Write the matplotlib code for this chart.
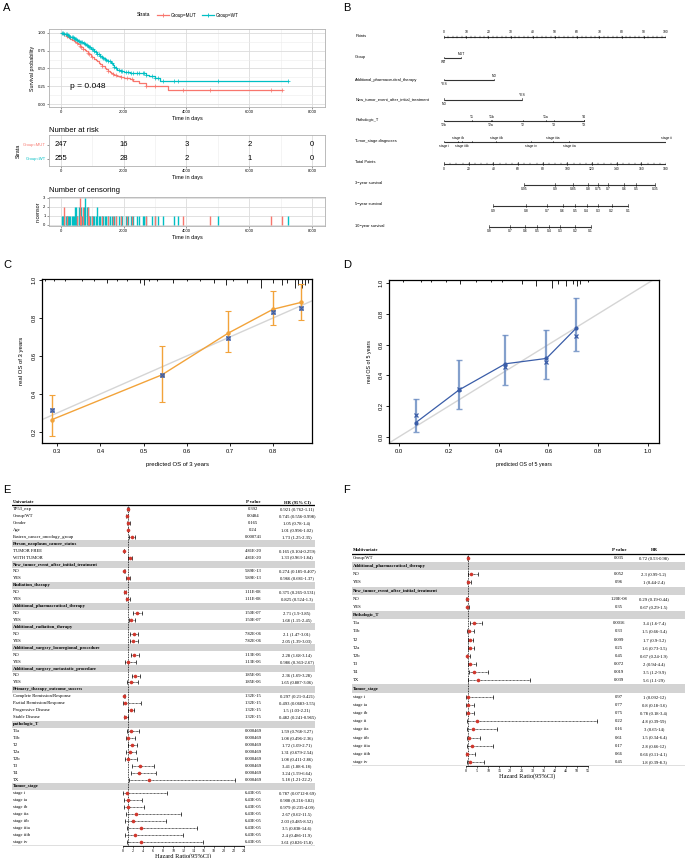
import numpy as np
import matplotlib
matplotlib.use("Agg")
import matplotlib.pyplot as plt

W, H = 685, 858
plt.rcParams['font.family'] = ['Liberation Sans', 'DejaVu Sans']
SERIF = ['Liberation Serif', 'DejaVu Serif']
RED, TEAL = '#F8766D', '#00BFC4'
ORANGE, BLUE = '#F2A33A', '#3A5DA8'

# ---------------- A: survival by group ----------------
km_mut_t = [0, 50, 100, 150, 200, 250, 300, 350, 400, 450, 500, 550, 600, 650, 700, 750, 800, 850,
            900, 950, 1000, 1050, 1100, 1150, 1200, 1250, 1300, 1350, 1400, 1450, 1500, 1550, 1600,
            1650, 1700, 1800, 1900, 2000, 2100, 2200, 2300, 2400, 2500, 2600, 2700, 3300, 3400, 7050]
km_mut_s = [1.0, 0.99, 0.98, 0.96, 0.95, 0.93, 0.92, 0.90, 0.89, 0.87, 0.86, 0.84, 0.82, 0.80, 0.78,
            0.76, 0.74, 0.72, 0.70, 0.68, 0.66, 0.64, 0.62, 0.60, 0.58, 0.56, 0.54, 0.53, 0.51, 0.49,
            0.47, 0.45, 0.44, 0.42, 0.41, 0.40, 0.38, 0.37, 0.36, 0.35, 0.33, 0.32, 0.30, 0.29, 0.25,
            0.25, 0.20, 0.20]
km_wt_t = [0, 50, 100, 150, 200, 250, 300, 350, 400, 450, 500, 550, 600, 650, 700, 750, 800, 850,
           900, 950, 1000, 1050, 1100, 1150, 1200, 1250, 1300, 1350, 1400, 1450, 1500, 1550, 1600,
           1650, 1700, 1750, 1800, 1900, 2000, 2200, 2400, 2600, 2700, 2800, 2900, 3000, 3150, 7250]
km_wt_s = [1.0, 0.995, 0.99, 0.98, 0.97, 0.96, 0.95, 0.94, 0.93, 0.92, 0.90, 0.89, 0.88, 0.87, 0.86,
           0.84, 0.83, 0.81, 0.80, 0.78, 0.77, 0.75, 0.73, 0.71, 0.70, 0.68, 0.66, 0.65, 0.63, 0.62,
           0.61, 0.60, 0.58, 0.55, 0.52, 0.50, 0.48, 0.46, 0.45, 0.44, 0.44, 0.43, 0.41, 0.40, 0.39,
           0.37, 0.32, 0.32]
p_text = "p = 0.048"
risk_times = [0, 2000, 4000, 6000, 8000]
risk_mut = [247, 16, 3, 2, 0]
risk_wt = [255, 28, 2, 1, 0]
cens_wt_t = [40, 70, 110, 150, 190, 230, 260, 300, 340, 380,
             420, 450, 480, 520, 560, 600, 640, 680, 720, 780,
             820, 850, 900, 940, 980, 1020, 1060, 1100, 1150, 1200,
             1250, 1300, 1350, 1400, 1450, 1500, 1560, 1620, 1700, 1760,
             1850, 1900, 1960, 2080, 2150, 2230, 2300, 2420, 2480, 2600,
             2650, 2720, 2900, 3000, 3100, 3250, 3600, 3720, 5000, 7250]
cens_wt_n = [1, 1, 1, 1, 1, 1, 1, 1, 1, 1,
             1, 2, 2, 1, 2, 1, 2, 1, 2, 3,
             2, 2, 1, 1, 1, 1, 1, 1, 2, 1,
             1, 1, 1, 1, 1, 1, 1, 1, 1, 1,
             1, 1, 1, 1, 1, 1, 1, 1, 1, 1,
             1, 1, 1, 1, 1, 1, 1, 1, 1, 1]
cens_mut_t = [100, 180, 500, 600, 650, 700, 860, 900, 1000, 1300, 1500, 1650, 1750, 1900,
              2100, 2250, 2700, 3000, 3900, 4750, 6700, 7050]
cens_mut_n = [2, 1, 1, 3, 1, 2, 2, 1, 1, 1, 1, 1, 1, 1, 1, 1, 1, 1, 1, 1, 1, 1]

# ---------------- B: nomogram ----------------
pts_group = [0, 7.7]
lab_group = ["WT", "MUT"]
pts_pharm = [0, 22.5]
lab_pharm = ["YES", "NO"]
pts_newtum = [0, 35.1]
lab_newtum = ["NO", "YES"]
pts_T = [0, 12.6, 21.2, 21.6, 35.6, 45.9, 49.5, 63.1, 63.1]
lab_T = ["T2b", "T1", "T2a", "T1b", "T2", "T1a", "T3", "T4", "TX"]
pts_stage = [0, 6.3, 8.1, 12.5, 23.4, 39.2, 49.0, 56.3, 100]
lab_stage = ["stage i", "stage ib", "stage iiib", "", "stage iib", "stage iv", "stage iiia",
             "stage iia", "stage ii"]
surv3_tp = [64.9, 90, 104.6, 116.8, 124.9, 133, 146, 155.7, 171]
surv3_lab = ["0.95", "0.9", "0.85", "0.8", "0.75", "0.7", "0.6", "0.5", "0.35"]
surv5_tp = [39.7, 66.5, 83.8, 96.2, 106.2, 115.7, 125.1, 136, 149.5]
surv5_lab = ["0.9", "0.8", "0.7", "0.6", "0.5", "0.4", "0.3", "0.2", "0.1"]
surv10_tp = [36.5, 53.5, 65.7, 75.7, 85.1, 94.1, 106.2, 118.9]
surv10_lab = ["0.8", "0.7", "0.6", "0.5", "0.4", "0.3", "0.2", "0.1"]

# ---------------- C / D: calibration ----------------
c_pred = [0.288, 0.542, 0.696, 0.800, 0.865]
c_obs = [0.265, 0.500, 0.720, 0.846, 0.882]
c_lo = [0.177, 0.360, 0.620, 0.763, 0.790]
c_hi = [0.393, 0.650, 0.837, 0.940, 0.977]
c_corr = [0.317, 0.498, 0.693, 0.830, 0.850]
c_rug_x = [0.273, 0.292, 0.319, 0.358, 0.385, 0.415, 0.439, 0.462, 0.492, 0.500, 0.512, 0.531, 0.569,
           0.600, 0.631, 0.662, 0.692, 0.708, 0.739, 0.773, 0.800, 0.820, 0.831, 0.850, 0.858, 0.866,
           0.874, 0.881]
c_rug_n = [1, 1, 1, 1, 1, 2, 1, 1, 2, 3, 1, 1, 2, 1, 1, 2, 3, 1, 2, 4, 2, 3, 2, 4, 3, 4, 3, 2]

d_pred = [0.067, 0.241, 0.427, 0.592, 0.711]
d_obs = [0.092, 0.305, 0.475, 0.510, 0.706]
d_lo = [0.033, 0.181, 0.340, 0.377, 0.556]
d_hi = [0.248, 0.497, 0.660, 0.693, 0.900]
d_corr = [0.144, 0.310, 0.451, 0.486, 0.654]
d_rug_x = [0.016, 0.09, 0.13, 0.19, 0.244, 0.31, 0.37, 0.415, 0.495, 0.55, 0.616, 0.638, 0.672,
           0.699, 0.715, 0.728, 0.759]
d_rug_n = [1, 1, 1, 1, 2, 1, 1, 1, 2, 3, 4, 2, 3, 2, 3, 2, 1]

# ---------------- E: univariate cox ----------------
nan = np.nan
e_labels = ["TP53_exp", "Group/WT", "Gender", "Age", "Eastern_cancer_oncology_group",
            "Person_neoplasm_cancer_status", "TUMOR FREE", "WITH TUMOR",
            "New_tumor_event_after_initial_treatment", "NO", "YES",
            "Radiation_therapy", "NO", "YES",
            "Additional_pharmaceutical_therapy", "NO", "YES",
            "Additional_radiation_therapy", "NO", "YES",
            "Additional_surgery_locoregional_procedure", "NO", "YES",
            "Additional_surgery_metastatic_procedure", "NO", "YES",
            "Primary_therapy_outcome_success", "Complete Remission/Response",
            "Partial Remission/Response", "Progressive Disease", "Stable Disease",
            "pathologic_T", "T1a", "T1b", "T2", "T2a", "T2b", "T3", "T4", "TX",
            "Tumor_stage", "stage i", "stage ia", "stage ib", "stage iia", "stage iib",
            "stage iiia", "stage iiib", "stage iv"]
e_p = ["0.392", "0.0484", "0.165", "0.24", "0.000741",
       "", "4.81E-20", "4.81E-20",
       "", "5.89E-13", "5.89E-13",
       "", "1.11E-08", "1.11E-08",
       "", "1.50E-07", "1.50E-07",
       "", "7.82E-06", "7.82E-06",
       "", "1.13E-06", "1.13E-06",
       "", "1.85E-06", "1.85E-06",
       "", "1.32E-15", "1.32E-15", "1.32E-15", "1.32E-15",
       "", "0.000469", "0.000469", "0.000469", "0.000469", "0.000469", "0.000469", "0.000469",
       "0.000469",
       "", "6.43E-05", "6.43E-05", "6.43E-05", "6.43E-05", "6.43E-05", "6.43E-05", "6.43E-05",
       "6.43E-05"]
e_hr = [0.921, 0.745, 1.05, 1.01, 1.73, nan, 0.165, 1.33, nan, 0.274, 0.966, nan, 0.375, 0.825,
        nan, 2.71, 1.68, nan, 2.1, 2.05, nan, 2.28, 0.986, nan, 2.36, 1.65,
        nan, 0.297, 0.493, 1.5, 0.482,
        nan, 1.59, 1.08, 1.72, 1.31, 1.08, 3.41, 3.24, 5.18,
        nan, 0.787, 0.908, 0.979, 2.67, 2.03, 3.5, 2.4, 3.61]
e_lo = [0.762, 0.556, 0.78, 0.996, 1.25, nan, 0.104, 0.963, nan, 0.185, 0.681, nan, 0.265, 0.524,
        nan, 1.9, 1.15, nan, 1.47, 1.39, nan, 1.68, 0.363, nan, 1.69, 0.887,
        nan, 0.21, 0.0683, 1.03, 0.241,
        nan, 0.768, 0.496, 1.09, 0.679, 0.411, 1.88, 1.59, 1.21,
        nan, 0.0712, 0.216, 0.235, 0.62, 0.485, 0.838, 0.486, 0.826]
e_hi = [1.11, 0.998, 1.4, 1.02, 2.35, nan, 0.259, 1.84, nan, 0.407, 1.37, nan, 0.531, 1.3,
        nan, 3.85, 2.45, nan, 3.01, 3.03, nan, 3.14, 2.67, nan, 3.28, 3.06,
        nan, 0.421, 3.55, 2.21, 0.965,
        nan, 3.27, 2.36, 2.71, 2.54, 2.86, 6.18, 6.64, 22.2,
        nan, 8.69, 3.82, 4.09, 11.5, 8.52, 14.6, 11.9, 15.8]

# ---------------- F: multivariate cox ----------------
f_labels = ["Group/WT", "Additional_pharmaceutical_therapy", "NO", "YES",
            "New_tumor_event_after_initial_treatment", "NO", "YES",
            "Pathologic_T", "T1a", "T1b", "T2", "T2a", "T2b", "T3", "T4", "TX",
            "Tumor_stage", "stage i", "stage ia", "stage ib", "stage ii", "stage iia", "stage iib",
            "stage iiia", "stage iiib", "stage iv"]
f_p = ["0.035", "", "0.052", "0.96", "", "1.20E-08", "0.35", "", "0.0016", "0.33", "0.099", "0.25",
       "0.45", "0.072", "0.019", "0.039", "", "0.97", "0.77", "0.75", "0.22", "0.16", "0.61", "0.17",
       "0.66", "0.45"]
f_hr = [0.72, nan, 2.3, 1, nan, 0.29, 0.67, nan, 3.4, 1.5, 1.7, 1.6, 0.67, 2, 3.5, 5.6,
        nan, 1, 0.8, 0.78, 4.8, 3, 1.5, 2.8, 0.66, 1.8]
f_lo = [0.53, nan, 0.99, 0.44, nan, 0.19, 0.29, nan, 1.6, 0.66, 0.9, 0.73, 0.24, 0.94, 1.2, 1.1,
        nan, 0.092, 0.18, 0.18, 0.39, 0.65, 0.34, 0.66, 0.11, 0.39]
f_hi = [0.98, nan, 5.2, 2.4, nan, 0.44, 1.5, nan, 7.4, 3.4, 3.2, 3.5, 1.9, 4.4, 9.9, 29,
        nan, 12, 3.6, 3.4, 59, 14, 6.4, 12, 4.1, 8.3]

fig = plt.figure(figsize=(W / 100, H / 100), dpi=100)


def ax_at(x0, y0, x1, y1):
    # pixel box (top-left origin) -> figure axes
    return fig.add_axes([x0 / W, 1 - y1 / H, (x1 - x0) / W, (y1 - y0) / H])


def ftext(x, y, s, **kw):
    fig.text(x / W, 1 - y / H, s, **kw)


for lab, x, y in [("A", 3, 8), ("B", 343, 8), ("C", 3, 265), ("D", 343, 265), ("E", 3, 490), ("F", 343, 490)]:
    ftext(x, y, lab, fontsize=8, va='center', ha='left')


def gg_style(ax):
    for s in ax.spines.values():
        s.set_color('#b0b0b0')
        s.set_linewidth(0.6)
    ax.set_axisbelow(True)
    ax.grid(True, which='major', color='#dcdcdc', lw=0.6)
    ax.grid(True, which='minor', color='#ececec', lw=0.4)
    ax.tick_params(which='major', labelsize=3, length=1.5, width=0.4, color='#444444', pad=1)
    ax.tick_params(which='minor', length=0)
    ax.set_xlim(-382, 8414)
    ax.set_xticks(risk_times)
    ax.set_xticks([1000, 3000, 5000, 7000], minor=True)


# KM legend row
ax_leg = ax_at(130, 9, 250, 21)
ax_leg.set_xlim(130, 250)
ax_leg.set_ylim(0, 1)
ax_leg.axis('off')
ax_leg.text(137, 0.5, "Strata", fontsize=3.6, va='center')
for x0, col, lab in [(157, RED, "Group=MUT"), (202, TEAL, "Group=WT")]:
    ax_leg.plot([x0, x0 + 12], [0.5, 0.5], color=col, lw=0.9)
    ax_leg.plot([x0 + 6], [0.5], marker='+', color=col, ms=2.5, mew=0.6)
    ax_leg.text(x0 + 14, 0.5, lab, fontsize=3.3, va='center')

ax_km = ax_at(49, 29, 325, 107)
gg_style(ax_km)
ax_km.set_ylim(-0.042, 1.056)
ax_km.set_yticks([0, 0.25, 0.5, 0.75, 1.0])
ax_km.set_yticklabels(["0.00", "0.25", "0.50", "0.75", "1.00"])
ax_km.set_yticks([0.125, 0.375, 0.625, 0.875], minor=True)
for t, s, ct, col in [(km_mut_t, km_mut_s, cens_mut_t, RED), (km_wt_t, km_wt_s, cens_wt_t, TEAL)]:
    t = np.array(t)
    s = np.array(s)
    ax_km.step(t, s, where='post', color=col, lw=0.9)
    idx = np.searchsorted(t, np.array(ct), side='right') - 1
    ax_km.plot(ct, s[idx], ls='none', marker='+', color=col, ms=2.2, mew=0.5)
ax_km.text(300, 0.25, p_text, fontsize=6, va='center')
ax_km.set_xlabel("Time in days", fontsize=4, labelpad=1)
ax_km.set_ylabel("Survival probability", fontsize=3.8, labelpad=2)

ftext(49, 130, "Number at risk", fontsize=5.5, va='center')
ax_rt = ax_at(49, 135, 325, 166)
gg_style(ax_rt)
ax_rt.grid(False, axis='y', which='both')
ax_rt.set_ylim(-0.5, 1.71)
for t, a, b in zip(risk_times, risk_mut, risk_wt):
    ax_rt.text(t, 1, str(a), fontsize=5.5, ha='center', va='center')
    ax_rt.text(t, 0, str(b), fontsize=5.5, ha='center', va='center')
ax_rt.set_yticks([1, 0])
ax_rt.set_yticklabels(["Group=MUT", "Group=WT"])
for tl, col in zip(ax_rt.get_yticklabels(), [RED, TEAL]):
    tl.set_color(col)
ax_rt.set_xlabel("Time in days", fontsize=4, labelpad=1)
ax_rt.set_ylabel("Strata", fontsize=3.8, labelpad=1)

ftext(49, 190, "Number of censoring", fontsize=5.5, va='center')
ax_cn = ax_at(49, 197, 325, 226)
gg_style(ax_cn)
ax_cn.set_ylim(-0.15, 3.1)
ax_cn.set_yticks([0, 1, 2, 3])
ax_cn.vlines(cens_wt_t, 0, cens_wt_n, color=TEAL, lw=1.0)
ax_cn.vlines(cens_mut_t, 0, cens_mut_n, color=RED, lw=1.0)
ax_cn.set_xlabel("Time in days", fontsize=4, labelpad=1)
ax_cn.set_ylabel("n.censor", fontsize=3.8, labelpad=2)

# ---------------- B ----------------
NFS = 2.9
ax_b = ax_at(444, 20, 666, 250)
ax_b.set_xlim(0, 100)
ax_b.set_ylim(250, 20)
ax_b.axis('off')


def row_label(y, s):
    ax_b.text(-40, y, s, fontsize=NFS, ha='left', va='center')


def var_axis(y, pos, labs, sides):
    ax_b.plot([min(pos), max(pos)], [y, y], color='#333333', lw=0.8, solid_capstyle='butt')
    for p, lab, sd in zip(pos, labs, sides):
        ax_b.plot([p, p], [y, y - 1.3], color='k', lw=0.4)
        ax_b.text(p, y - 4.3 if sd else y + 4.3, lab, fontsize=NFS * 0.85, ha='center', va='center')


def scale_axis(y, pos, labs, minor=None, up=False):
    ax_b.plot([min(pos), max(pos)], [y, y], color='#333333', lw=0.8, solid_capstyle='butt')
    if minor is not None:
        for p in minor:
            ax_b.plot([p, p], [y - 0.8, y + 0.8], color='k', lw=0.3)
    for p, lab in zip(pos, labs):
        ax_b.plot([p, p], [y - 1.3, y + 1.3], color='k', lw=0.4)
        ax_b.text(p, y - 5 if up else y + 5, lab, fontsize=NFS * 0.85, ha='center', va='center')


tp = 100 / 180
row_label(36, "Points")
scale_axis(37, list(range(0, 101, 10)), [str(v) for v in range(0, 101, 10)],
           minor=list(range(0, 101, 2)), up=True)
row_label(57, "Group")
var_axis(58, pts_group, lab_group, [False, True])
row_label(80, "Additional_pharmaceutical_therapy")
var_axis(80, pts_pharm, lab_pharm, [False, True])
row_label(99, "New_tumor_event_after_initial_treatment")
var_axis(99.5, pts_newtum, lab_newtum, [False, True])
row_label(120, "Pathologic_T")
var_axis(121, pts_T, lab_T, [False, True, False, True, False, True, False, True, False])
row_label(141, "Tumor_stage.diagnoses")
var_axis(142, pts_stage, lab_stage, [False, True, False, False, True, False, True, False, True])
row_label(162, "Total Points")
scale_axis(163.5, [v * tp for v in range(0, 181, 20)], [str(v) for v in range(0, 181, 20)],
           minor=[v * tp for v in range(0, 181, 5)])
row_label(183, "3\u2212year survival")
scale_axis(184.5, [v * tp for v in surv3_tp], surv3_lab)
row_label(204, "5\u2212year survival")
scale_axis(205.5, [v * tp for v in surv5_tp], surv5_lab)
row_label(226, "10\u2212year survival")
scale_axis(226.5, [v * tp for v in surv10_tp], surv10_lab)


# ---------------- C / D ----------------
def cal_style(ax, xl, yl, xt, yt, fmt):
    ax.set_xlim(*xl)
    ax.set_ylim(*yl)
    for s in ax.spines.values():
        s.set_linewidth(0.9)
    ax.set_xticks(xt)
    ax.set_xticklabels([fmt % v for v in xt])
    ax.set_yticks(yt)
    ax.set_yticklabels([fmt % v for v in yt], rotation=90, va='center')
    ax.tick_params(labelsize=4.2, length=2, width=0.6, pad=2)
    ax.plot([-0.1, 1.1], [-0.1, 1.1], color='#d5d5d5', lw=1.0, zorder=1)


ax_c = ax_at(42, 279, 312, 443)
cal_style(ax_c, (0.265, 0.89), (0.142, 1.005), [0.3, 0.4, 0.5, 0.6, 0.7, 0.8], [0.2, 0.4, 0.6, 0.8, 1.0], "%.1f")
c_obs_a = np.array(c_obs)
ax_c.errorbar(c_pred, c_obs, yerr=[c_obs_a - np.array(c_lo), np.array(c_hi) - c_obs_a], color=ORANGE,
              lw=1.0, elinewidth=1.0, capsize=2, capthick=0.8, marker='o', ms=2.2, zorder=3)
ax_c.plot(c_pred, c_corr, ls='none', marker='x', color=BLUE, ms=3, mew=0.9, zorder=4)
ax_c.plot(c_pred, c_corr, ls='none', marker='s', mfc='none', mec=BLUE, ms=3, mew=0.4, zorder=4)
ax_c.vlines(c_rug_x, [1 - 0.013 * n for n in c_rug_n], 1, transform=ax_c.get_xaxis_transform(),
            color='k', lw=0.6, clip_on=False)
ax_c.set_xlabel("predicted OS of 3 years", fontsize=4.3, labelpad=6)
ax_c.set_ylabel("real OS of 3 years", fontsize=4.3, labelpad=5)

ax_d = ax_at(389, 280, 659, 443)
cal_style(ax_d, (-0.04, 1.044), (-0.04, 1.02), [0, 0.2, 0.4, 0.6, 0.8, 1.0], [0, 0.2, 0.4, 0.6, 0.8, 1.0], "%.1f")
d_obs_a = np.array(d_obs)
ax_d.errorbar(d_pred, d_obs, yerr=[d_obs_a - np.array(d_lo), np.array(d_hi) - d_obs_a], color='#6f8fc4',
              lw=0, elinewidth=1.6, capsize=2, capthick=1.0, alpha=0.85, zorder=2)
ax_d.plot(d_pred, d_obs, color=BLUE, lw=0.9, marker='o', ms=2, zorder=3)
ax_d.plot(d_pred, d_corr, ls='none', marker='x', color=BLUE, ms=2.8, mew=0.9, zorder=4)
ax_d.vlines(d_rug_x, [1 - 0.013 * n for n in d_rug_n], 1, transform=ax_d.get_xaxis_transform(),
            color='k', lw=0.6, clip_on=False)
ax_d.set_xlabel("predicted OS of 5 years", fontsize=3.8, labelpad=6)
ax_d.set_ylabel("real OS of 5 years", fontsize=3.8, labelpad=5)


# ---------------- E / F forest tables ----------------
def forest(tx0, tx1, fx0, fx1, ytop, ybot, row0, step, title, hr_head, px, hx,
           labels, pvals, hr, lo, hi, xmax, xticks):
    n = len(labels)
    yl = ((ybot - row0) / step, (ytop - row0) / step)
    at = ax_at(tx0, ytop, tx1, ybot)
    at.set_xlim(tx0, tx1)
    at.set_ylim(*yl)
    at.axis('off')
    hr = np.asarray(hr, float)
    fs = 3.3
    for i in range(n):
        head = np.isnan(hr[i])
        if head:
            at.fill_between([tx0, tx1], i - 0.5, i + 0.5, color='#d3d3d3', lw=0)
        at.text(tx0 + 1, i, labels[i], fontsize=fs, family=SERIF, ha='left', va='center',
                fontweight='bold' if head else 'normal')
        if not head:
            at.text(px, i, pvals[i], fontsize=fs, family=SERIF, ha='center', va='center')
            at.text(hx, i, "%g (%g-%g)" % (hr[i], lo[i], hi[i]), fontsize=fs, family=SERIF,
                    ha='center', va='center')
    at.text(tx0 + 1, -1, title, fontsize=fs, family=SERIF, fontweight='bold', ha='left', va='center')
    at.text(px, -1, "P value", fontsize=fs, family=SERIF, fontweight='bold', ha='center', va='center')
    at.text(hx, -1, hr_head, fontsize=fs, family=SERIF, fontweight='bold', ha='center', va='center')
    at.plot([tx0, tx1], [-0.55, -0.55], color='k', lw=0.9)
    at.plot([tx0, tx1], [n - 0.45, n - 0.45], color='k', lw=0.9)

    af = ax_at(fx0, ytop, fx1, ybot)
    af.patch.set_alpha(0)
    af.set_xlim(0, xmax)
    af.set_ylim(*yl)
    for s in ['top', 'right', 'left']:
        af.spines[s].set_visible(False)
    af.spines['bottom'].set_linewidth(0.6)
    af.set_yticks([])
    af.set_xticks(xticks)
    af.set_xticklabels([str(v) for v in xticks], fontsize=3, family=SERIF)
    af.tick_params(axis='x', length=1.5, width=0.4, pad=0.5)
    af.set_xlabel("Hazard Ratio(95%CI)", fontsize=4.6, family=SERIF, labelpad=0.5)
    af.plot([1, 1], [-0.55, n - 0.45], color='k', ls=(0, (1, 1)), lw=0.6)
    for i in range(n):
        if np.isnan(hr[i]):
            continue
        af.plot([lo[i], hi[i]], [i, i], color='k', ls=(0, (1.2, 0.8)), lw=0.5, clip_on=False)
        af.plot([lo[i], hi[i]], [i, i], ls='none', marker='|', color='k', ms=2.4, mew=0.5, clip_on=False)
        af.plot(hr[i], i, marker='o', color='#d0362c', ms=2.6, mew=0, clip_on=False)


forest(12, 315, 123, 244, 498, 846, 509, (842 - 509) / 48, "Univariate", "HR (95% CI)", 253, 297,
       e_labels, e_p, e_hr, e_lo, e_hi, 24, list(range(0, 25, 2)))
forest(352, 685, 466, 588, 545, 766, 558, (762 - 558) / 25, "Multivariate", "HR", 619, 654,
       f_labels, f_p, f_hr, f_lo, f_hi, 55, list(range(0, 56, 5)))

fig.savefig("out.png", dpi=100)
